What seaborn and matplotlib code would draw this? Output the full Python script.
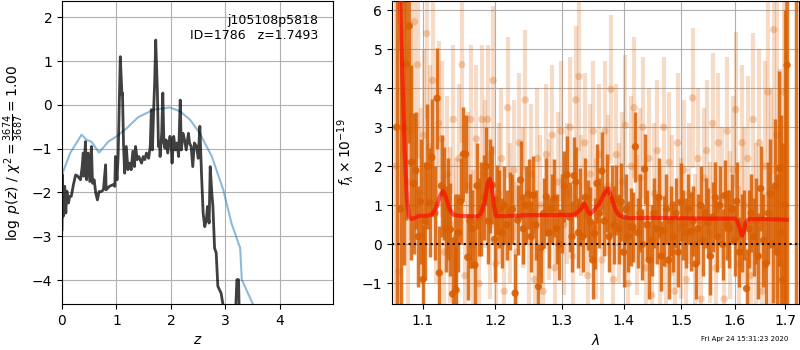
"""Redshift fit summary: log p(z) on the left, 1D spectrum with model on the right."""

import matplotlib

matplotlib.use("Agg")
import matplotlib.pyplot as plt
import numpy as np
import pandas as pd
import seaborn as sns
from matplotlib.ticker import NullLocator

# --- left panel: log p(z) ---------------------------------------------------
pz_z = [0.00, 0.01, 0.02, 0.05, 0.07, 0.09, 0.12, 0.14, 0.17, 0.21, 0.25, 0.29,
        0.34, 0.37, 0.39, 0.40, 0.43, 0.45, 0.48, 0.51, 0.54, 0.56, 0.59, 0.62,
        0.65, 0.68, 0.72, 0.76, 0.80, 0.81, 0.87, 0.94, 0.97, 0.98, 1.01, 1.03,
        1.07, 1.10, 1.11, 1.13, 1.15, 1.18, 1.21, 1.24, 1.27, 1.30, 1.33, 1.35,
        1.38, 1.41, 1.46, 1.49, 1.52, 1.55, 1.59, 1.62, 1.64, 1.66, 1.68, 1.70,
        1.72, 1.75, 1.77, 1.79, 1.80, 1.83, 1.85, 1.87, 1.89, 1.91, 1.94, 1.98,
        2.00, 2.02, 2.05, 2.08, 2.11, 2.14, 2.17, 2.19, 2.22, 2.25, 2.28, 2.32,
        2.34, 2.37, 2.40, 2.43, 2.47, 2.50, 2.53, 2.56, 2.59, 2.62, 2.65, 2.67,
        2.70, 2.72, 2.75, 2.77, 2.80, 2.83, 2.86, 2.89, 2.92, 2.97, 3.05, 3.17,
        3.21, 3.24, 3.26, 3.40, 3.80, 4.50, 5.00]
pz_logp = [-2.85, -1.60, -2.55, -1.86, -2.47, -1.97, -2.24, -2.09, -2.09, -1.82,
           -1.60, -1.63, -1.71, -1.41, -1.10, -1.63, -0.84, -1.71, -1.10, -1.75,
           -0.95, -1.79, -1.71, -2.02, -2.17, -1.98, -1.98, -1.94, -1.37, -1.94,
           -1.86, -1.82, -1.86, -1.18, -1.71, -1.18, 1.10, 0.23, 0.27, -0.95,
           -1.56, -0.95, -1.48, -1.33, -1.48, -1.06, -1.41, -0.95, -1.25, -1.18,
           -1.33, -1.18, -1.25, -1.10, -1.22, -0.95, -0.11, -1.03, -0.19, 0.49,
           1.48, 0.34, -0.95, -0.87, -1.18, -0.65, 0.27, -0.87, -0.99, -0.80,
           -1.10, -0.72, -0.80, -1.33, -0.72, -1.03, -0.87, -1.18, 0.11, -1.03,
           -0.65, -0.80, -1.03, -0.65, -0.87, -0.95, -1.41, -0.87, -0.95, -1.22,
           -0.49, -1.56, -2.47, -2.78, -2.62, -2.32, -2.70, -1.41, -2.02, -2.32,
           -3.27, -3.38, -4.14, -4.22, -4.30, -4.68, -5.60, -5.20, -3.99, -3.99,
           -5.20, -6.50, -8.00, -9.00, -10.0]

chi2_z = [0.00, 0.01, 0.15, 0.36, 0.45, 0.54, 0.68, 0.85, 1.00, 1.19, 1.40,
          1.68, 1.98, 2.17, 2.35, 2.53, 2.75, 2.96, 3.11, 3.27, 3.30, 3.50,
          3.80, 4.50, 5.00]
chi2_logp = [-1.60, -1.56, -1.10, -0.68, -0.80, -0.84, -1.09, -0.84, -0.72,
             -0.53, -0.28, -0.11, -0.06, -0.15, -0.34, -0.65, -1.18, -1.94,
             -2.70, -3.27, -3.99, -4.54, -5.40, -7.00, -8.00]

# --- right panel: spectrum --------------------------------------------------
wave_a = [1.066, 1.071, 1.075, 1.078, 1.082, 1.085, 1.088, 1.091, 1.094, 1.097,
          1.100, 1.103, 1.106, 1.109, 1.112, 1.116, 1.119, 1.122, 1.125, 1.128,
          1.131, 1.134, 1.137, 1.140, 1.143, 1.145, 1.148, 1.151, 1.155, 1.158,
          1.161, 1.164, 1.167, 1.171, 1.174, 1.177, 1.180, 1.184, 1.187, 1.190,
          1.193, 1.196, 1.199, 1.203, 1.206, 1.210, 1.213, 1.217, 1.221, 1.225,
          1.229, 1.233, 1.237, 1.241, 1.245, 1.249, 1.253, 1.256, 1.260, 1.264,
          1.268, 1.272, 1.276, 1.280, 1.284, 1.288, 1.292, 1.296, 1.300, 1.304,
          1.308, 1.312, 1.316, 1.319, 1.322, 1.326, 1.329, 1.333, 1.337, 1.341,
          1.345, 1.349, 1.352, 1.356, 1.360, 1.364, 1.368, 1.372, 1.376, 1.380,
          1.384, 1.388, 1.392, 1.396, 1.400, 1.404, 1.408, 1.412, 1.416, 1.420,
          1.424, 1.428, 1.432, 1.436, 1.440, 1.444, 1.448, 1.452, 1.457, 1.461,
          1.465, 1.469, 1.474, 1.478, 1.482, 1.486, 1.491, 1.495, 1.500, 1.504,
          1.509, 1.513, 1.518, 1.522, 1.527, 1.531, 1.536, 1.540, 1.545, 1.549,
          1.554, 1.558, 1.563, 1.567, 1.572, 1.577, 1.581, 1.586, 1.590, 1.595,
          1.600, 1.604, 1.609, 1.614, 1.618, 1.623, 1.628, 1.632, 1.637, 1.642,
          1.646, 1.651, 1.656, 1.661, 1.666, 1.670, 1.675, 1.680, 1.684, 1.688,
          1.692, 1.695, 1.699, 1.704, 1.722]
flux_a = [3.00, 0.90, 2.97, 4.62, 5.59, 2.10, 1.56, 1.89, 0.20, 1.10,
          -0.90, 0.60, 2.00, 1.07, 2.23, 0.80, 3.74, -0.73, 1.50, 1.30,
          0.40, 0.90, 0.38, -1.27, 0.10, -1.17, 0.30, 1.10, 2.31, 2.31,
          -0.33, 0.60, 0.40, -0.53, 1.50, 0.70, 0.90, 1.20, 2.00, 0.60,
          1.49, 1.52, 0.13, 1.14, 0.90, 0.30, 1.00, 0.50, 0.85, 0.90,
          -1.25, 0.62, 1.65, 0.40, 1.00, 1.29, 0.20, 1.26, 0.50, -1.08,
          -0.08, 0.80, 1.22, 0.30, 0.90, 1.18, 0.40, 0.00, 0.79, 1.48,
          1.78, 0.70, 0.20, 1.76, 1.60, 0.30, 0.96, 0.20, 1.20, 0.75,
          0.58, -0.40, 0.28, 1.56, 0.80, 1.88, 0.60, 1.31, 0.20, 1.14,
          0.50, 1.14, 0.40, 1.09, -0.20, 0.90, 0.20, 0.45, 0.44, 2.50,
          0.30, 0.80, 0.00, 1.93, 0.50, -0.40, 0.10, 0.80, 0.40, 1.20,
          -0.30, 0.35, 0.90, -0.40, 0.60, 0.20, 0.80, -0.20, 1.08, 0.50,
          0.30, 0.90, 0.33, 0.60, -0.50, 0.40, 1.00, 0.10, 0.80, 0.55,
          -0.30, 0.70, 1.20, 0.20, 1.00, 0.00, 1.25, 0.50, 0.40, 0.90,
          0.10, 1.10, -0.20, 0.30, 0.50, -1.13, 0.40, 0.80, 0.20, 0.60,
          -0.30, 1.43, 0.10, -0.50, 0.80, 1.30, 0.00, 1.50, -0.20, 1.95,
          0.30, -0.91, 1.00, 4.59, 7.00]
err_a = [6.0, 5.5, 3.5, 4.0, 3.0, 2.5, 1.8, 1.5, 1.3, 1.6,
         1.4, 1.5, 1.6, 1.4, 1.5, 1.2, 1.3, 1.2, 1.3, 1.2,
         1.1, 1.3, 1.2, 1.3, 1.2, 1.1, 1.0, 1.1, 1.2, 1.0,
         1.1, 1.2, 1.0, 1.2, 1.1, 1.0, 1.2, 1.1, 1.0, 1.1,
         1.2, 1.0, 1.1, 0.9, 1.0, 0.9, 1.0, 0.9, 1.0, 0.9,
         1.0, 0.9, 1.0, 0.9, 1.0, 0.9, 0.9, 1.0, 0.9, 1.0,
         0.9, 0.9, 1.0, 0.9, 0.9, 1.0, 0.9, 0.9, 1.0, 0.9,
         1.0, 0.9, 0.9, 1.0, 0.9, 0.9, 1.0, 0.9, 1.0, 0.9,
         0.9, 1.0, 0.9, 1.0, 0.9, 1.0, 0.9, 1.0, 0.9, 0.9,
         1.0, 0.9, 0.9, 1.0, 0.9, 0.9, 0.9, 1.0, 0.9, 0.9,
         0.9, 1.0, 0.9, 0.9, 0.9, 1.0, 0.9, 0.9, 0.9, 1.0,
         0.9, 0.9, 0.9, 1.0, 0.9, 0.9, 0.9, 0.9, 1.0, 0.9,
         0.9, 0.9, 1.0, 0.9, 0.9, 0.9, 1.0, 0.9, 0.9, 0.9,
         1.0, 0.9, 0.9, 0.9, 1.0, 0.9, 0.9, 0.9, 1.0, 0.9,
         0.9, 1.0, 0.9, 1.0, 0.9, 1.0, 1.0, 1.0, 1.0, 1.1,
         1.1, 1.1, 1.2, 1.2, 1.3, 1.4, 1.5, 1.7, 2.0, 2.5,
         3.0, 3.5, 5.0, 8.0, 12.0]

wave_b = [1.065, 1.069, 1.073, 1.080, 1.084, 1.089, 1.093, 1.097, 1.101, 1.105,
          1.109, 1.113, 1.117, 1.121, 1.125, 1.129, 1.133, 1.137, 1.141, 1.145,
          1.149, 1.153, 1.157, 1.161, 1.165, 1.169, 1.173, 1.177, 1.181, 1.185,
          1.189, 1.193, 1.197, 1.201, 1.205, 1.209, 1.213, 1.218, 1.222, 1.227,
          1.231, 1.235, 1.240, 1.244, 1.249, 1.253, 1.258, 1.262, 1.267, 1.271,
          1.276, 1.280, 1.285, 1.289, 1.294, 1.299, 1.303, 1.308, 1.313, 1.317,
          1.322, 1.327, 1.331, 1.336, 1.341, 1.345, 1.350, 1.355, 1.360, 1.364,
          1.369, 1.374, 1.379, 1.383, 1.388, 1.393, 1.398, 1.403, 1.408, 1.413,
          1.418, 1.423, 1.428, 1.433, 1.438, 1.443, 1.448, 1.453, 1.458, 1.463,
          1.469, 1.474, 1.479, 1.484, 1.489, 1.494, 1.500, 1.505, 1.510, 1.515,
          1.521, 1.526, 1.531, 1.537, 1.542, 1.547, 1.553, 1.558, 1.564, 1.569,
          1.575, 1.580, 1.586, 1.591, 1.597, 1.602, 1.608, 1.614, 1.619, 1.625,
          1.631, 1.636, 1.642, 1.648, 1.654, 1.660, 1.665, 1.671, 1.677, 1.683,
          1.690, 1.697]
flux_b = [2.00, -0.70, 6.20, 1.60, 2.90, 5.70, 4.60, 1.30, 2.80, 5.40,
          2.50, 4.20, 1.00, 3.10, 2.70, -0.20, 1.80, 0.50, 3.20, 0.20,
          2.20, 4.60, -0.80, 1.50, 3.20, 0.00, 2.70, -1.00, 3.20, 1.80,
          3.20, 0.50, 4.20, -0.50, 1.30, 2.20, -1.20, 3.50, 0.80, 1.90,
          -0.20, 2.60, 1.20, 3.70, 0.20, 1.80, -0.90, 2.20, 1.00, -1.20,
          2.30, 0.90, 2.80, -0.60, 1.60, 2.90, 0.50, 1.30, 3.00, -0.30,
          3.70, 4.30, 1.00, 2.60, -0.80, 1.80, 2.90, 0.40, 2.30, -0.40,
          2.90, 1.50, 3.97, -0.90, 2.30, 0.80, 1.60, 3.05, -1.00, 2.00,
          3.50, 0.50, 1.70, 3.00, -0.60, 2.20, -1.30, 1.30, 2.40, 0.20,
          3.00, -0.50, 2.10, 1.00, -1.20, 2.60, 0.40, 1.90, -0.90, 1.30,
          3.75, 0.00, 2.20, -1.40, 1.70, 2.40, 0.30, 3.10, -0.60, 2.60,
          1.20, -1.40, 2.90, 0.50, 1.90, 3.45, -0.50, 2.60, 1.00, 2.20,
          -0.80, 3.20, 0.40, 2.60, -1.20, 2.00, 3.90, 0.80, 5.50, 2.80,
          -0.50, 3.90]
err_b = [7.0, 6.0, 4.0, 3.5, 2.8, 2.6, 2.4, 2.2, 2.2, 2.2,
         2.1, 2.2, 2.0, 2.1, 2.0, 2.0, 2.0, 2.0, 1.9, 2.0,
         1.9, 2.0, 1.9, 1.9, 1.9, 1.9, 1.9, 1.9, 1.9, 1.9,
         1.9, 1.9, 1.9, 1.8, 1.8, 1.8, 1.8, 1.8, 1.8, 1.8,
         1.8, 1.8, 1.8, 1.8, 1.8, 1.8, 1.8, 1.8, 1.8, 1.8,
         1.8, 1.8, 1.8, 1.8, 1.8, 1.8, 1.8, 1.8, 1.8, 1.8,
         1.9, 1.9, 1.8, 1.8, 1.8, 1.8, 1.8, 1.8, 1.8, 1.8,
         1.8, 1.8, 1.9, 1.8, 1.8, 1.8, 1.8, 1.8, 1.8, 1.8,
         1.8, 1.8, 1.8, 1.8, 1.8, 1.8, 1.8, 1.8, 1.8, 1.8,
         1.8, 1.8, 1.8, 1.8, 1.8, 1.8, 1.8, 1.8, 1.8, 1.8,
         1.8, 1.8, 1.8, 1.8, 1.8, 1.8, 1.8, 1.8, 1.8, 1.8,
         1.8, 1.8, 1.9, 1.9, 1.9, 2.0, 2.0, 2.0, 2.0, 2.1,
         2.1, 2.2, 2.2, 2.4, 2.5, 2.7, 3.0, 3.2, 3.7, 4.2,
         5.0, 6.0]

model_wave = [1.070, 1.073, 1.076, 1.079, 1.082, 1.085, 1.090, 1.095, 1.105,
              1.112, 1.118, 1.123, 1.127, 1.131, 1.136, 1.141, 1.150, 1.165,
              1.175, 1.180, 1.185, 1.189, 1.192, 1.195, 1.198, 1.201, 1.210,
              1.250, 1.300, 1.320, 1.330, 1.336, 1.341, 1.345, 1.350, 1.360,
              1.368, 1.375, 1.380, 1.386, 1.392, 1.400, 1.410, 1.450, 1.500,
              1.550, 1.600, 1.605, 1.610, 1.614, 1.618, 1.622, 1.628, 1.660,
              1.703]
model_flux = [6.50, 4.50, 2.50, 1.20, 0.72, 0.65, 0.68, 0.73, 0.73,
              0.76, 0.95, 1.25, 1.37, 1.20, 0.90, 0.76, 0.73, 0.72,
              0.72, 0.80, 1.10, 1.55, 1.68, 1.50, 1.00, 0.73, 0.72,
              0.75, 0.75, 0.76, 0.90, 1.05, 0.85, 0.78, 0.85, 1.05,
              1.30, 1.43, 1.20, 0.90, 0.75, 0.70, 0.67, 0.68, 0.67,
              0.66, 0.66, 0.60, 0.40, 0.22, 0.35, 0.58, 0.65, 0.65,
              0.63]

z_ticks = [0, 1, 2, 3, 4]
logp_ticks = [-4, -3, -2, -1, 0, 1, 2]
wave_ticks = [1.1, 1.2, 1.3, 1.4, 1.5, 1.6, 1.7]
flux_ticks = [-1, 0, 1, 2, 3, 4, 5, 6]

SPEC_COLOR = "#d95f02"


def draw_spectrum(ax, wave, flux, err, alpha_bar, alpha_pt, lw):
    df = pd.DataFrame({"wave": wave, "flux": flux, "err": err})
    ax.vlines(df["wave"], df["flux"] - df["err"], df["flux"] + df["err"],
              color=SPEC_COLOR, alpha=alpha_bar, lw=lw, zorder=2)
    sns.scatterplot(data=df, x="wave", y="flux", ax=ax, color=SPEC_COLOR,
                    alpha=alpha_pt, s=28, edgecolor="none", zorder=3)


fig = plt.figure(figsize=(8, 3.5), dpi=100)
ax1 = fig.add_axes([0.0775, 0.131, 0.3385, 0.866])
ax2 = fig.add_axes([0.490, 0.131, 0.509, 0.866])

# left
sns.lineplot(x=chi2_z, y=chi2_logp, ax=ax1, color="#1f77b4", alpha=0.5, lw=1.5,
             estimator=None, sort=False)
sns.lineplot(x=pz_z, y=pz_logp, ax=ax1, color="k", alpha=0.75, lw=2,
             estimator=None, sort=False)
ax1.set_xlim(0, 4.97)
ax1.set_ylim(-4.55, 2.37)
ax1.set_xticks(z_ticks)
ax1.set_yticks(logp_ticks)
ax1.grid(True)
ax1.set_xlabel(r"$z$")
ax1.set_ylabel(r"$\log\ p(z)$ / $\chi^2=\frac{3674}{3687}=1.00$")
ax1.text(0.945, 0.957, "j105108p5818\nID=1786   z=1.7493", transform=ax1.transAxes,
         ha="right", va="top", fontsize=9)

# right
draw_spectrum(ax2, wave_b, flux_b, err_b, 0.22, 0.28, 3)
draw_spectrum(ax2, wave_a, flux_a, err_a, 0.85, 0.9, 2.5)
sns.lineplot(x=model_wave, y=model_flux, ax=ax2, color="r", alpha=0.6, lw=3,
             estimator=None, sort=False, zorder=4)
ax2.axhline(0, color="k", ls=":", lw=1.5, zorder=5)
ax2.set_xscale("log")
ax2.set_xlim(1.06, 1.729)
ax2.set_ylim(-1.53, 6.23)
ax2.set_xticks(wave_ticks)
ax2.set_xticklabels([f"{w:.1f}" for w in wave_ticks])
ax2.xaxis.set_minor_locator(NullLocator())
ax2.set_yticks(flux_ticks)
ax2.grid(True)
ax2.set_xlabel(r"$\lambda$")
ax2.set_ylabel(r"$f_\lambda \times 10^{-19}$")

fig.text(0.985, 0.022, "Fri Apr 24 15:31:23 2020", ha="right", va="bottom", fontsize=5)

fig.savefig("out.png", dpi=100)
